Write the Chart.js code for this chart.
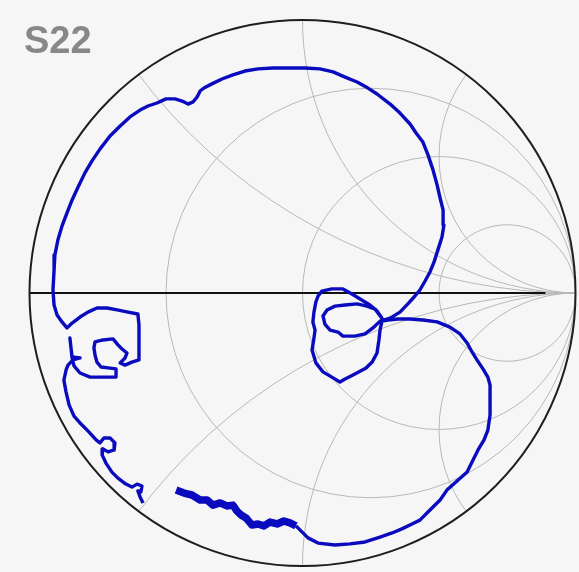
<!DOCTYPE html>
<html>
<head>
<meta charset="utf-8">
<script src="https://cdn.jsdelivr.net/npm/chart.js@4.4.0/dist/chart.umd.min.js"></script>
<style>
	html, body { margin: 0; padding: 0; background: #f6f6f6; }
	canvas { display: block; }
</style>
</head>
<body>
<canvas id="smith" width="579" height="572"></canvas>
<script>
const TITLE = 'S22'

// smith grid: constant resistance circles and constant reactance arcs (+/-)
const RESISTANCE = [1 / 3, 1, 3]
const REACTANCE = [0.5, 1, 2]

// reflection coefficient, noisy low band part of the sweep
const bandRe = [-0.463, -0.434, -0.405, -0.375, -0.350, -0.328, -0.302, -0.277, -0.255, -0.240,
	-0.225, -0.207, -0.185, -0.163, -0.141, -0.119, -0.093, -0.068, -0.046, -0.024]
const bandIm = [-0.722, -0.733, -0.740, -0.758, -0.758, -0.777, -0.769, -0.780, -0.777, -0.799,
	-0.813, -0.824, -0.850, -0.846, -0.853, -0.839, -0.846, -0.835, -0.842, -0.853]

// rest of the sweep
const traceRe = [
	-0.024, -0.002, 0.020, 0.057, 0.119, 0.174, 0.229, 0.284, 0.328, 0.364,
	0.401, 0.430, 0.456, 0.478, 0.504, 0.529, 0.566, 0.603, 0.621, 0.643,
	0.665, 0.679, 0.687, 0.687, 0.687, 0.679, 0.661, 0.639, 0.621, 0.603,
	0.577, 0.540, 0.493, 0.441, 0.394, 0.350, 0.313, 0.291,
	0.284, 0.280, 0.273, 0.255, 0.233, 0.185, 0.156, 0.137, 0.112, 0.075, 0.049, 0.035,
	0.042, 0.046, 0.038, 0.042, 0.049, 0.057, 0.071, 0.108, 0.148, 0.181, 0.211, 0.247, 0.273, 0.291,
	0.266, 0.236, 0.200, 0.156, 0.119, 0.090, 0.075, 0.082, 0.101, 0.130, 0.148, 0.192, 0.229, 0.258, 0.284,
	0.321, 0.357, 0.386, 0.412, 0.430, 0.449, 0.467, 0.482, 0.496, 0.511, 0.518,
	0.515, 0.504, 0.493, 0.478, 0.460, 0.441, 0.416, 0.394, 0.357, 0.321,
	0.273, 0.233, 0.200, 0.156, 0.112, 0.064, 0.009, -0.046, -0.108, -0.163,
	-0.211, -0.255, -0.295, -0.332, -0.361, -0.375, -0.386, -0.401, -0.419, -0.441,
	-0.467, -0.500, -0.533, -0.566, -0.595, -0.632, -0.668, -0.705, -0.742, -0.771,
	-0.797, -0.822, -0.844, -0.863, -0.881, -0.896, -0.907, -0.910, -0.914, -0.910, -0.899, -0.881, -0.863,
	-0.844, -0.815, -0.786, -0.753, -0.716, -0.679, -0.639, -0.603, -0.599, -0.599, -0.599, -0.599,
	-0.625, -0.650, -0.668, -0.650, -0.643, -0.661, -0.676, -0.694, -0.731, -0.760, -0.764, -0.760, -0.753, -0.738, -0.705, -0.683,
	-0.683, -0.723, -0.778, -0.815, -0.837, -0.844, -0.848, -0.852, -0.848, -0.844, -0.815, -0.841, -0.859,
	-0.866, -0.874, -0.866, -0.855, -0.837, -0.815, -0.786, -0.756, -0.742,
	-0.727, -0.705, -0.687, -0.690, -0.712, -0.731, -0.734, -0.720, -0.698, -0.676, -0.647, -0.625, -0.606, -0.588, -0.592, -0.603, -0.595, -0.584
]
const traceIm = [
	-0.853, -0.875, -0.897, -0.916, -0.923, -0.919, -0.912, -0.894, -0.879, -0.864,
	-0.846, -0.832, -0.806, -0.784, -0.758, -0.722, -0.689, -0.656, -0.619, -0.575,
	-0.538, -0.502, -0.447, -0.392, -0.337, -0.308, -0.278, -0.245, -0.216, -0.183,
	-0.150, -0.125, -0.106, -0.099, -0.095, -0.095, -0.099, -0.103,
	-0.136, -0.172, -0.220, -0.253, -0.275, -0.300, -0.315, -0.326, -0.311, -0.289, -0.256, -0.209,
	-0.165, -0.136, -0.106, -0.070, -0.033, -0.011, 0.007, 0.015, 0.015, -0.004, -0.022, -0.044, -0.066, -0.092,
	-0.059, -0.048, -0.040, -0.044, -0.048, -0.062, -0.084, -0.114, -0.136, -0.143, -0.158, -0.158, -0.150, -0.128, -0.103,
	-0.092, -0.070, -0.040, -0.011, 0.011, 0.044, 0.077, 0.114, 0.158, 0.205, 0.249,
	0.304, 0.348, 0.396, 0.451, 0.505, 0.553, 0.586, 0.619, 0.659, 0.692,
	0.729, 0.755, 0.773, 0.791, 0.810, 0.821, 0.824, 0.824, 0.824, 0.821,
	0.813, 0.799, 0.784, 0.766, 0.751, 0.740, 0.718, 0.700, 0.692, 0.703,
	0.711, 0.711, 0.696, 0.685, 0.670, 0.645, 0.612, 0.575, 0.527, 0.484,
	0.440, 0.388, 0.341, 0.293, 0.245, 0.194, 0.139, 0.084, 0.011, -0.044, -0.081, -0.106, -0.128,
	-0.110, -0.088, -0.070, -0.055, -0.055, -0.062, -0.070, -0.077, -0.117, -0.161, -0.209, -0.245,
	-0.253, -0.264, -0.256, -0.238, -0.220, -0.205, -0.190, -0.168, -0.172, -0.179, -0.201, -0.227, -0.253, -0.271, -0.275, -0.278,
	-0.308, -0.308, -0.308, -0.293, -0.267, -0.238, -0.201, -0.165, -0.201, -0.234, -0.238, -0.245, -0.264,
	-0.282, -0.319, -0.363, -0.410, -0.451, -0.476, -0.505, -0.538, -0.549,
	-0.531, -0.531, -0.549, -0.575, -0.582, -0.571, -0.593, -0.623, -0.656, -0.678, -0.700, -0.711, -0.700, -0.707, -0.729, -0.725, -0.747, -0.769
]

const TRACE_COLOR = 'rgb(10, 10, 190)'

const toPoints = (re, im) => re.map((x, i) => ({ x, y: im[i] }))

const smithGrid = {
	id: 'smithGrid',
	beforeDatasetsDraw(chart) {
		const { ctx, scales: { x, y } } = chart
		const px = v => x.getPixelForValue(v)
		const py = v => y.getPixelForValue(v)
		const unit = px(1) - px(0)

		ctx.save()
		ctx.beginPath()
		ctx.arc(px(0), py(0), unit, 0, Math.PI * 2)
		ctx.clip()
		ctx.strokeStyle = '#b8b8b8'
		ctx.lineWidth = 1
		RESISTANCE.forEach(r => {
			ctx.beginPath()
			ctx.arc(px(r / (r + 1)), py(0), unit / (r + 1), 0, Math.PI * 2)
			ctx.stroke()
		})
		REACTANCE.forEach(xv => {
			[xv, -xv].forEach(s => {
				ctx.beginPath()
				ctx.arc(px(1), py(1 / s), unit / Math.abs(s), 0, Math.PI * 2)
				ctx.stroke()
			})
		})
		ctx.restore()

		// real axis
		ctx.save()
		ctx.strokeStyle = '#111'
		ctx.lineWidth = 1.8
		ctx.beginPath()
		ctx.moveTo(px(-1), py(0))
		ctx.lineTo(px(0.89), py(0))
		ctx.stroke()

		// unit circle
		ctx.strokeStyle = '#1e1e1e'
		ctx.lineWidth = 2
		ctx.beginPath()
		ctx.arc(px(0), py(0), unit, 0, Math.PI * 2)
		ctx.stroke()
		ctx.restore()
	},
	afterDraw(chart) {
		const { ctx } = chart
		ctx.save()
		ctx.font = 'bold 38px "Liberation Sans", Arial, sans-serif'
		ctx.fillStyle = '#888888'
		ctx.textBaseline = 'alphabetic'
		ctx.fillText(TITLE, 24, 53)
		ctx.restore()
	}
}

new Chart(document.getElementById('smith'), {
	type: 'scatter',
	data: {
		datasets: [
			{
				data: toPoints(bandRe, bandIm),
				showLine: true,
				borderColor: TRACE_COLOR,
				borderWidth: 7.5,
				borderJoinStyle: 'round',
				pointRadius: 0,
				clip: false
			},
			{
				data: toPoints(traceRe, traceIm),
				showLine: true,
				borderColor: TRACE_COLOR,
				borderWidth: 3.4,
				borderJoinStyle: 'round',
				pointRadius: 0,
				clip: false
			}
		]
	},
	options: {
		responsive: false,
		animation: false,
		layout: {
			padding: { left: 29.5, right: 3.5, top: 20, bottom: 6 }
		},
		scales: {
			x: { type: 'linear', min: -1, max: 1, display: false },
			y: { type: 'linear', min: -1, max: 1, display: false }
		},
		plugins: {
			legend: { display: false },
			tooltip: { enabled: false }
		}
	},
	plugins: [smithGrid]
})
</script>
</body>
</html>
